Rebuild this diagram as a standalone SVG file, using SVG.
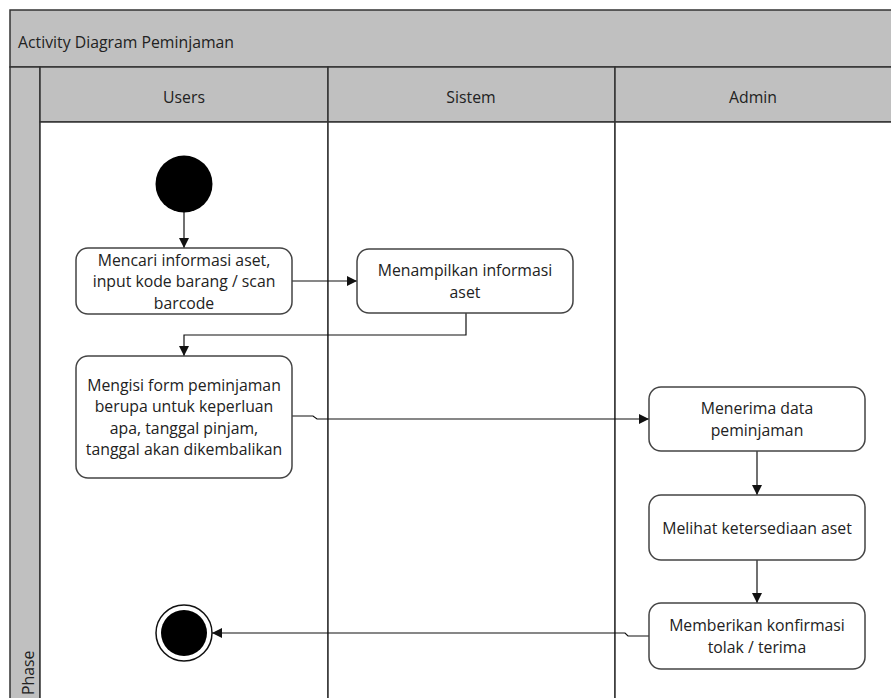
<svg xmlns="http://www.w3.org/2000/svg" width="891" height="698" viewBox="0 0 891 698">
  <style>
    .band { fill: #c0c0c0; stroke: #333; stroke-width: 1.5; }
    .lane { fill: #ffffff; stroke: #333; stroke-width: 1.5; }
    .hdr { font-family: "Open Sans", "Noto Sans", sans-serif; font-size: 15.8px; fill: #222; }
    .act { fill: #ffffff; stroke: #444; stroke-width: 1.5; }
    .lbl { font-family: "Open Sans", "Noto Sans", sans-serif; font-size: 15.8px; fill: #222; text-anchor: middle; }
    .edge { fill: none; stroke: #111; stroke-width: 1.2; }
  </style>
  <defs>
    <marker id="arrow" viewBox="0 0 10 10" refX="10" refY="5" markerWidth="10" markerHeight="10" markerUnits="userSpaceOnUse" orient="auto">
      <path d="M0,0 L10,5 L0,10 Z" fill="#111"/>
    </marker>
  </defs>
  <rect width="891" height="698" fill="#ffffff"/>

  <!-- frame, title band and swimlanes -->
  <g id="frame">
    <rect class="band" x="10" y="10" width="890" height="57"/>
    <text class="hdr" x="18" y="48">Activity Diagram Peminjaman</text>
    <rect class="band" x="10" y="67" width="30" height="640"/>
    <text class="hdr" transform="translate(34,695) rotate(-90)">Phase</text>
    <rect class="band" x="40" y="67" width="288" height="55"/>
    <rect class="band" x="328" y="67" width="287" height="55"/>
    <rect class="band" x="615" y="67" width="285" height="55"/>
    <text class="lbl" x="184" y="103">Users</text>
    <text class="lbl" x="471" y="103">Sistem</text>
    <text class="lbl" x="753" y="103">Admin</text>
    <rect class="lane" x="40" y="122" width="288" height="585"/>
    <rect class="lane" x="328" y="122" width="287" height="585"/>
    <rect class="lane" x="615" y="122" width="285" height="585"/>
  </g>

  <!-- connectors -->
  <g id="connectors">
    <path class="edge" d="M184,212 V248" marker-end="url(#arrow)"/>
    <path class="edge" d="M292,281 H357" marker-end="url(#arrow)"/>
    <path class="edge" d="M466,313 V335 H184 V356" marker-end="url(#arrow)"/>
    <path class="edge" d="M292,416 H313 L317,419 H649" marker-end="url(#arrow)"/>
    <path class="edge" d="M757,451 V495" marker-end="url(#arrow)"/>
    <path class="edge" d="M757,560 V603" marker-end="url(#arrow)"/>
    <path class="edge" d="M649,636 H628 L625,633 H212" marker-end="url(#arrow)"/>
  </g>

  <g id="start">
    <circle cx="184" cy="184" r="28.5" fill="#000"/>
  </g>

  <g id="cari-aset">
    <rect class="act" x="76" y="248" width="216" height="66" rx="12"/>
    <text class="lbl" x="184" y="266">Mencari informasi aset,</text>
    <text class="lbl" x="184" y="287">input kode barang / scan</text>
    <text class="lbl" x="184" y="309">barcode</text>
  </g>

  <g id="tampil-info">
    <rect class="act" x="357" y="249" width="216" height="64" rx="12"/>
    <text class="lbl" x="465" y="276">Menampilkan informasi</text>
    <text class="lbl" x="465" y="298">aset</text>
  </g>

  <g id="isi-form">
    <rect class="act" x="76" y="356" width="216" height="122" rx="12"/>
    <text class="lbl" x="184" y="391">Mengisi form peminjaman</text>
    <text class="lbl" x="184" y="412">berupa untuk keperluan</text>
    <text class="lbl" x="184" y="434">apa, tanggal pinjam,</text>
    <text class="lbl" x="184" y="455">tanggal akan dikembalikan</text>
  </g>

  <g id="terima-data">
    <rect class="act" x="649" y="387" width="216" height="64" rx="12"/>
    <text class="lbl" x="757" y="414">Menerima data</text>
    <text class="lbl" x="757" y="436">peminjaman</text>
  </g>

  <g id="cek-ketersediaan">
    <rect class="act" x="649" y="495" width="216" height="65" rx="12"/>
    <text class="lbl" x="757" y="534">Melihat ketersediaan aset</text>
  </g>

  <g id="konfirmasi">
    <rect class="act" x="649" y="603" width="216" height="66" rx="12"/>
    <text class="lbl" x="757" y="631">Memberikan konfirmasi</text>
    <text class="lbl" x="757" y="653">tolak / terima</text>
  </g>

  <g id="end">
    <circle cx="184" cy="633" r="28" fill="#fff" stroke="#111" stroke-width="1.5"/>
    <circle cx="184" cy="633" r="23" fill="#000"/>
  </g>
</svg>
